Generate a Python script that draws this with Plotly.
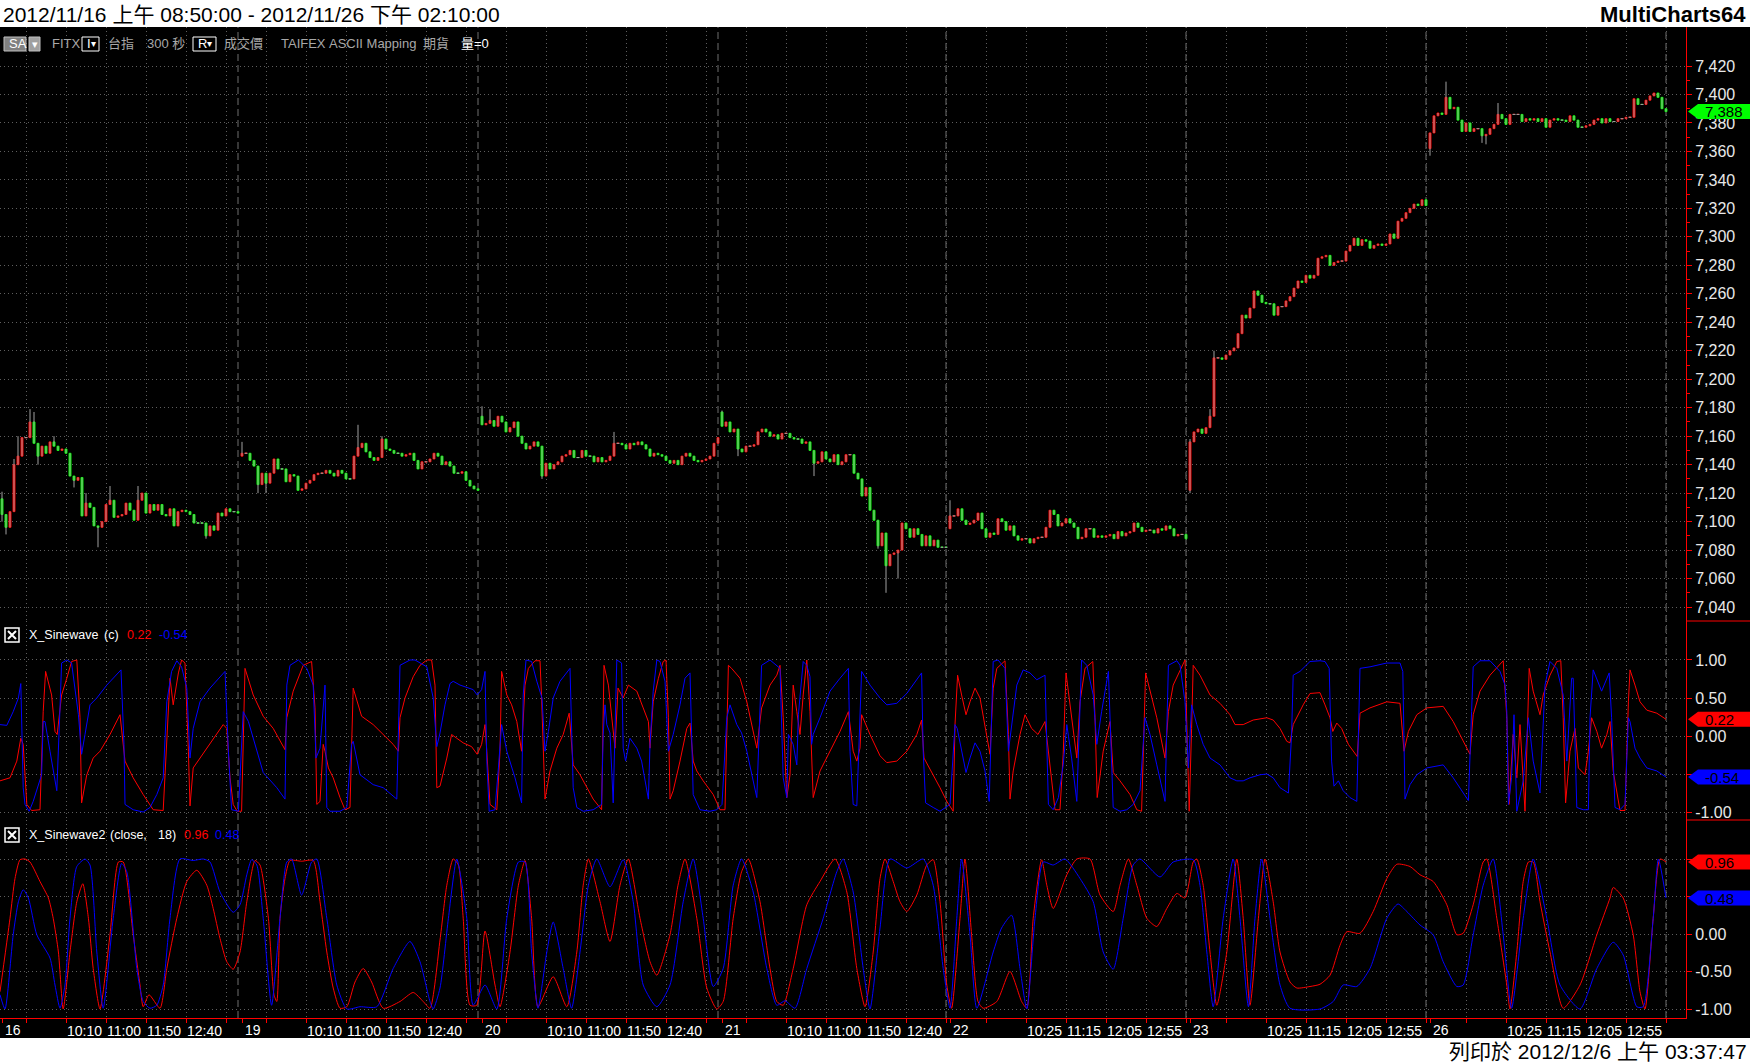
import plotly.graph_objects as go

# ---------------- texts ----------------
header_left = "2012/11/16 上午 08:50:00 - 2012/11/26 下午 02:10:00"
header_right = "MultiCharts64"
footer_text = "列印於 2012/12/6 上午 03:37:47"
symbol_bar = [(50, "FITX", "#a8a8a8"), (106, "台指", "#a8a8a8"), (145, "300 秒", "#a8a8a8"),
              (222, "成交價", "#a8a8a8"), (279, "TAIFEX", "#a8a8a8"), (327, "ASCII Mapping", "#a8a8a8"),
              (421, "期貨", "#a8a8a8"), (459, "量=0", "#ffffff")]
legend1 = [(27, "X_Sinewave", "#ffffff"), (102, "(c)", "#ffffff")]
legend2 = [(27, "X_Sinewave2", "#ffffff"), (108, "(close,", "#ffffff"), (156, "18)", "#ffffff")]

# ---------------- price data (5-minute bars) ----------------
day_labels = ["16", "19", "20", "21", "22", "23", "26"]
day_first_open = [7116, 7146, 7174, 7177, 7095, 7122, 7362]

close_d16 = [7105, 7096, 7107, 7140, 7146, 7159, 7159, 7170, 7155, 7146, 7153, 7148, 7156, 7153, 7150,
             7151, 7148, 7132, 7129, 7131, 7104, 7113, 7110, 7097, 7096, 7100, 7112, 7115, 7103, 7104,
             7105, 7113, 7108, 7101, 7115, 7120, 7106, 7112, 7108, 7112, 7105, 7104, 7109, 7097, 7107,
             7108, 7107, 7105, 7099, 7099, 7099, 7090, 7097, 7094, 7106, 7104, 7109, 7107, 7107, 7106]
close_d19 = [7148, 7148, 7143, 7139, 7126, 7134, 7127, 7134, 7144, 7137, 7137, 7128, 7133, 7132, 7122,
             7123, 7127, 7129, 7133, 7134, 7134, 7136, 7134, 7132, 7136, 7134, 7130, 7130, 7146, 7152,
             7155, 7149, 7145, 7143, 7145, 7158, 7151, 7150, 7148, 7148, 7146, 7147, 7148, 7143, 7137,
             7142, 7142, 7144, 7148, 7146, 7140, 7142, 7139, 7134, 7134, 7135, 7129, 7125, 7123, 7122]
close_d20 = [7168, 7169, 7171, 7167, 7174, 7170, 7163, 7166, 7170, 7160, 7155, 7151, 7153, 7156, 7153,
             7132, 7141, 7137, 7140, 7142, 7146, 7147, 7150, 7145, 7145, 7150, 7146, 7146, 7142, 7145,
             7142, 7143, 7146, 7155, 7155, 7154, 7151, 7155, 7154, 7156, 7154, 7151, 7146, 7148, 7147,
             7146, 7143, 7141, 7143, 7140, 7146, 7148, 7146, 7143, 7142, 7143, 7144, 7146, 7155, 7159]
close_d21 = [7167, 7170, 7163, 7165, 7151, 7149, 7153, 7153, 7154, 7163, 7165, 7163, 7160, 7161, 7158,
             7162, 7162, 7159, 7158, 7158, 7155, 7156, 7150, 7141, 7142, 7149, 7144, 7142, 7147, 7140,
             7142, 7147, 7147, 7134, 7130, 7118, 7124, 7108, 7101, 7083, 7092, 7069, 7077, 7078, 7080,
             7099, 7095, 7089, 7095, 7091, 7083, 7090, 7083, 7087, 7082, 7082, 7082]
close_d22 = [7104, 7104, 7109, 7101, 7098, 7099, 7101, 7106, 7095, 7089, 7092, 7091, 7102, 7100, 7094,
             7097, 7090, 7087, 7088, 7088, 7085, 7088, 7089, 7089, 7096, 7108, 7105, 7097, 7099, 7102,
             7099, 7096, 7088, 7089, 7095, 7095, 7089, 7090, 7089, 7090, 7091, 7088, 7093, 7090, 7092,
             7093, 7099, 7096, 7093, 7094, 7094, 7092, 7095, 7094, 7097, 7095, 7090, 7091, 7091, 7088]
close_d23 = [7156, 7163, 7165, 7162, 7166, 7174, 7215, 7215, 7214, 7217, 7220, 7222, 7232, 7245, 7243,
             7250, 7262, 7259, 7254, 7253, 7253, 7245, 7251, 7251, 7255, 7258, 7264, 7269, 7268, 7273,
             7271, 7273, 7285, 7286, 7287, 7280, 7282, 7283, 7283, 7290, 7294, 7299, 7294, 7298, 7297,
             7292, 7294, 7295, 7294, 7295, 7302, 7299, 7311, 7313, 7317, 7320, 7323, 7322, 7326, 7322]
close_d26 = [7373, 7385, 7387, 7386, 7398, 7390, 7391, 7382, 7374, 7380, 7374, 7376, 7376, 7371, 7372,
             7376, 7379, 7386, 7383, 7379, 7386, 7386, 7386, 7381, 7383, 7382, 7383, 7381, 7383, 7377,
             7382, 7383, 7382, 7382, 7381, 7385, 7382, 7377, 7377, 7378, 7379, 7382, 7383, 7380, 7383,
             7381, 7381, 7383, 7383, 7384, 7384, 7397, 7393, 7393, 7396, 7399, 7401, 7398, 7390, 7388]
daily_closes = [close_d16, close_d19, close_d20, close_d21, close_d22, close_d23, close_d26]

# visible long wicks (bar number -> price)
wick_high = {0: 7121, 3: 7144, 4: 7160, 7: 7179, 8: 7177, 13: 7160, 21: 7120, 27: 7125, 34: 7125,
             60: 7156, 89: 7168, 95: 7160, 120: 7181, 122: 7179, 153: 7163, 180: 7178, 237: 7115,
             297: 7158, 302: 7179, 303: 7220, 361: 7409, 374: 7394}
wick_low = {0: 7100, 1: 7091, 9: 7140, 18: 7124, 24: 7082, 51: 7088, 64: 7120, 66: 7120, 135: 7130,
            184: 7146, 203: 7132, 219: 7081, 221: 7050, 224: 7060, 297: 7120, 357: 7357, 370: 7366,
            371: 7365}

# time axis
session_first_bar = "08:50"
bar_minutes = 5
tick_times_early = ["09:20", "10:10", "11:00", "11:50", "12:40", "13:30"]
tick_times_late = ["09:35", "10:25", "11:15", "12:05", "12:55", "13:45"]
tick_times_by_day = [tick_times_early] * 4 + [tick_times_late] * 3
hidden_tick_times = {"09:20", "13:30", "09:35", "13:45"}

price_ticks = list(range(7040, 7421, 20))
osc_ticks = [-1.0, -0.5, 0.0, 0.5, 1.0]
osc_tick_text = ["-1.00", "-0.50", "0.00", "0.50", "1.00"]

# ---------------- indicator data (bar, value) ----------------
sine1_red = [(-0.5,-0.59),(2,-0.55),(3.7,-0.33),(4.7,-0.03),(5.3,-0.11),(6.2,-0.9),(7.4,-0.98),(9.5,-0.97),(10.3,0.32),(10.9,0.85),(12.4,0.54),(13.25,0.06),(13.8,0.02),(14.9,0.54),(16.2,0.76),(17.4,0.98),(18.7,1.0),(19.5,0.24),(19.9,-0.88),(21.2,-0.51),(22.8,-0.29),(24.5,-0.2),(27,0.02),(29.5,0.28),(30.75,-0.33),(32.8,-0.55),(35.3,-0.77),(37.8,-0.97),(40.3,-0.98),(41.2,-0.07),(42,0.76),(42.8,0.41),(44.1,0.83),(44.9,1.0),(45.75,0.96),(46.6,-0.2),(47,-0.92),(47.8,-0.42),(49.5,-0.29),(52,-0.09),(55.3,0.15),(56.2,0.1),(57,-0.55),(57.8,-0.9),(58.8,-0.99),(59.9,-0.99),(60.75,0.89),(62.8,0.54),(65.3,0.26),(67.8,0.1),(70.75,-0.18),(71.2,0.24),(72.8,0.59),(75.3,0.93),(77.4,0.98),(78.25,0.37),(78.7,-0.9),(79.5,-0.86),(80.3,-0.11),(80.75,-0.2),(81.6,-0.42),(82.8,-0.55),(84.5,-0.81),(85.75,-0.97),(87,-0.94),(87.8,0.63),(89.9,0.26),(92.8,0.15),(95.3,0.02),(97.8,-0.11),(99.1,-0.2),(99.5,0.24),(100.75,0.5),(102.8,0.78),(104.5,0.93),(106.2,1.0),(107.4,1.0),(108.25,0.67),(108.7,-0.68),(109.5,-0.66),
    (111.2,-0.29),(112.4,0.02),(113.7,-0.03),(115.3,-0.09),(117.4,-0.14),(118.8,-0.24),(119.9,-0.11),(120.75,0.15),(121.2,-0.2),(122,-0.9),(123.7,-0.97),(124.5,-0.2),(124.9,0.85),(126.2,0.54),(127.4,0.41),(128.7,0.19),(129.9,-0.2),(130.75,0.67),(131.6,0.89),(133.25,0.99),(134.5,0.99),(134.9,0.5),(135.75,-0.83),(137,-0.46),(138.7,-0.16),(140.3,0.02),(141.8,0.3),(142.8,-0.38),(144.5,-0.51),(146.2,-0.68),(147.8,-0.83),(149.9,-0.97),(150.5,0.93),(151.6,0.67),(152.4,0.24),(153.25,-0.16),(154,0.63),(155.3,0.5),(156.6,0.67),(158.7,0.59),(160.3,0.37),(161.6,0.19),(162,-0.16),(162.8,0.45),(164.1,0.76),(165.3,0.98),(166,1.0),(166.6,0.24),(167,-0.83),(167.8,-0.72),(169.5,-0.33),(171.2,0.1),(172,0.17),(172.8,-0.33),(173.7,-0.46),(175.3,-0.59),(177.8,-0.77),(179.5,-0.97),(180.75,-0.97),(181.6,0.93),(182.4,0.89),(184.5,0.76),(186.2,0.45),(188.7,-0.16),(189.9,0.37),(192,0.67),(193.7,0.8),(194.5,0.93),(195.3,0.24),(196.2,-0.81),(197,-0.51),(197.8,0.67),(198.7,0.32),(199.5,0.02),(200.3,0.54),(201.2,1.0),(202,0.32),(202.4,-0.16),(202.8,-0.81),(204.5,-0.46),(207,-0.2),(209.5,0.06),(211.6,0.32),(212.8,-0.2),(213.7,-0.33),(214.5,-0.16),(214.9,0.28),(217,0.02),(219.5,-0.26),
    (221.2,-0.35),(223.7,-0.33),(226.2,-0.2),(228.7,0.02),(229.9,0.21),(230.5,-0.29),(232.8,-0.51),(234.5,-0.68),(236.2,-0.86),(237.8,-0.99),(238.25,0.15),(238.9,0.8),(239.9,0.54),(241,0.28),(242,0.45),(243.25,0.63),(244.5,0.5),(246.2,0.02),(247,-0.24),(247.8,0.63),(248.7,0.89),(250.75,0.99),(251.6,0.02),(252,-0.83),(252.8,-0.46),(254.5,0.02),(255.75,0.28),(257.4,0.1),(259,0.02),(260.75,0.19),(261.6,-0.2),(263.25,-0.97),(264.5,-0.97),(265.3,-0.24),(266,0.83),(267.4,0.24),(268.7,-0.29),(269.5,0.45),(270.75,0.89),(272.7,0.98),(273.25,0.24),(273.8,-0.81),(275.3,-0.2),(277,0.19),(277.8,-0.48),(279.5,-0.59),(282,-0.77),(283.7,-0.97),(284.9,-0.99),(285.9,0.83),(287,0.59),(288.7,0.24),(290.75,-0.29),(291.6,0.32),(292.8,0.67),(294.5,0.85),(295.75,1.0),(296.2,0.15),(296.8,-0.99),(297.4,0.1),(297.8,0.93),(299.5,0.8),(302,0.54),(304.5,0.43),(307,0.28),(308.25,0.15),(310.3,0.15),(312.8,0.21),(316.2,0.24),(317.8,0.21),(319.5,0.1),(321.2,-0.07),(322,-0.09),(322.8,0.15),(325.3,0.41),(327,0.56),(329.5,0.57),
    (330.75,0.41),(332,0.24),(332.7,0.06),(333.7,0.17),(334.9,0.1),(336.6,-0.11),(338.8,-0.27),(339.5,0.3),(342,0.37),(346.2,0.45),(349.5,0.43),(350.5,-0.2),(351.6,0.06),(353.7,0.28),(356.2,0.37),(360.3,0.39),(362.8,0.19),(365.3,-0.07),(367,-0.24),(367.8,0.28),(369.5,0.59),(372,0.8),(375.3,0.99),(376.2,0.24),(376.75,-0.9),(377.8,0.02),(378.7,-0.55),(379.5,0.15),(380.75,-0.99),(381.8,0.89),(382.8,0.59),(384.5,0.28),(385.3,0.54),(387,0.8),(388.7,0.98),(389.7,0.99),(390.3,0.24),(390.9,-0.88),(392,-0.2),(393.25,0.1),(394.1,-0.42),(395.75,-0.51),(396.6,-0.2),(397.4,0.24),(398.7,0.06),(399.9,-0.16),(401.2,0.02),(402,0.19),(402.8,-0.46),(404.5,-0.98),(405.75,-0.98),(406.6,0.45),(407,0.87),(408.25,0.67),(409.5,0.45),(411.2,0.34),(413.7,0.3),(416,0.22)]

sine1_blue = [(-0.5,0.15),(1.2,0.14),(2.8,0.32),(4.1,0.5),(4.7,0.69),(5.3,-0.68),(5.75,-0.9),(6.8,-0.99),(7.8,-0.86),(9.9,-0.51),(10.3,0.19),(10.75,0.19),(12,-0.2),(13.7,-0.72),(14.5,0.37),(14.9,0.96),(16.2,1.0),(17.4,0.96),(19.1,0.28),(19.9,-0.24),(20.75,0.02),(22,0.41),(23.7,0.5),(26.2,0.67),(29.75,0.87),(30.5,-0.11),(30.75,-0.9),(32.8,-0.97),(35.3,-1.0),(37,-0.94),(38.7,-0.77),(40.3,-0.55),(41.2,0.45),(42.4,0.85),(43.7,0.99),(44.9,0.91),(46.2,0.63),(47,-0.29),(47.8,0.1),(49.5,0.45),(52,0.63),(55.75,0.85),(56.6,-0.2),(57.4,-0.97),(59.1,-0.99),(60.3,0.32),(61.6,0.19),(65.3,-0.48),(68.7,-0.68),(70.75,-0.83),(71.2,0.67),(72,0.93),(74.1,1.0),(76.2,0.89),(77.8,0.67),(78.5,-0.29),(79.5,-0.16),(80.75,0.67),(81.2,-0.94),(82,-0.99),(84.5,-0.99),(86.2,-0.94),(87.4,-0.11),(87.8,-0.07),(89.5,-0.51),(92.8,-0.64),(95.3,-0.68),(97,-0.75),(98.7,-0.83),(99.5,0.93),(102,1.0),(103.25,1.0),(106.2,0.91),(107.8,0.5),(108.7,-0.14),(109.5,0.04),
    (110.75,0.41),(112,0.69),(112.8,0.72),(114.5,0.67),(116.2,0.64),(117.8,0.61),(118.8,0.54),(119.9,0.61),(120.75,0.85),(121.2,-0.33),(121.8,-0.99),(123.25,-0.97),(124.1,-0.42),(124.9,0.15),(126.2,-0.2),(128.25,-0.55),(129.9,-0.88),(130.3,0.54),(131,1.0),(132.4,0.98),(133.7,0.72),(135,0.5),(135.75,-0.2),(136.6,0.06),(137.8,0.5),(139.5,0.72),(142,0.89),(142.8,-0.68),(143.7,-0.94),(145.3,-0.99),(147.8,-0.97),(149.9,-0.9),(150.3,0.02),(150.75,0.41),(151.2,0.15),(152,0.04),(152.8,-0.88),(153.25,0.28),(153.7,1.0),(154.9,0.96),(155.3,-0.16),(155.9,-0.33),(157,-0.03),(158.7,-0.16),(159.9,-0.33),(161.6,-0.83),(162,-0.11),(162.8,0.59),(163.7,1.0),(164.5,0.98),(165.75,0.72),(166.6,-0.2),(167.8,0.02),(169.5,0.41),(170.75,0.76),(172,0.83),(172.8,-0.77),(174.5,-0.97),(177,-0.99),(178.7,-0.97),(180,-0.9),(181.2,0.24),(182,0.41),(183.7,0.15),(184.9,0.04),(186.2,-0.2),(188.7,-0.81),(189.9,0.93),(192,1.0),(194.5,0.89),(195.3,-0.55),(196.2,-0.81),(196.6,0.02),(197.8,-0.11),(198.7,-0.38),(199.1,0.28),(200.3,0.98),(201.2,0.93),(202,0.78),(202.4,-0.11),(202.8,0.02),(204.5,0.24),(207,0.59),(209.5,0.76),(211.6,0.89),(212,-0.2),(212.8,-0.9),(213.7,-0.92),(214.9,0.85),(217,0.67),(219.5,0.5),
    (221.2,0.41),(223.7,0.43),(226.2,0.56),(229.9,0.83),(230.3,-0.2),(230.9,-0.88),(232.8,-0.94),(234.5,-0.99),(237,-0.9),(238.25,0.15),(238.8,0.1),(239.9,-0.2),(241,-0.48),(242,-0.29),(243.25,-0.09),(244.5,-0.2),(245.75,-0.46),(246.8,-0.86),(247.8,0.98),(249,1.0),(250.75,0.89),(251.6,-0.2),(252.4,0.15),(253.7,0.67),(255.3,0.87),(257,0.83),(258.7,0.74),(260.75,0.8),(261.6,-0.9),(262.8,-0.97),(264.1,-0.81),(265.3,-0.38),(266.2,0.15),(267.4,-0.29),(268.7,-0.86),(269.9,1.0),(271.2,0.93),(272.8,0.54),(273.7,-0.11),(274.9,0.32),(276.6,0.85),(277.8,-0.94),(279.5,-0.99),(281.2,-0.97),(282.8,-0.9),(284.5,-0.72),(285.75,0.24),(287,0.02),(288.7,-0.38),(290.75,-0.86),(291.6,0.93),(293.7,0.99),(294.5,0.93),(295.75,0.45),(296.6,-0.42),(297.4,0.41),(298.7,0.15),(300.3,-0.11),(302,-0.29),(304.5,-0.38),(307,-0.55),(308.7,-0.59),(310.3,-0.59),(312,-0.55),(314.5,-0.51),(316.2,-0.5),(317.8,-0.55),(319.5,-0.68),(321.6,-0.75),(322.4,0.02),(322.8,0.8),(324.5,0.85),(327,0.98),(329.5,0.99),
    (330.75,0.98),(331.8,0.89),(332.4,-0.33),(333,-0.66),(334.1,-0.59),(335.3,-0.72),(337,-0.81),(338.7,-0.86),(339.5,0.89),(342,0.91),(346.2,0.96),(349.5,0.96),(350.2,0.85),(350.75,-0.83),(352,-0.64),(353.7,-0.51),(356.2,-0.42),(358.25,-0.4),(360.3,-0.38),(362.8,-0.55),(364.9,-0.72),(366.6,-0.85),(367.4,0.32),(367.8,0.91),(369.5,0.99),(372,0.99),(374.5,0.85),(375.75,0.67),(376.2,0.32),(376.6,-0.9),(377.4,-0.55),(378,0.28),(378.7,-0.99),(380.3,-0.59),(381.6,0.24),(382.8,-0.33),(384.5,-0.75),(385.75,0.67),(387,0.98),(388.7,0.89),(390.3,0.54),(391.2,-0.33),(392.4,0.76),(392.8,0.76),(393.7,-0.94),(395.3,-0.97),(396.6,-0.97),(397,0.24),(397.8,0.87),(399.9,0.59),(401.8,0.83),(402.4,0.24),(403.25,-0.94),(404.5,-0.97),(405.75,-0.9),(406.6,0.24),(407,0.19),(408.25,-0.16),(409.5,-0.29),(411.2,-0.42),(413.7,-0.46),(416,-0.54)]

sine2_red = [(-0.5,-0.77),(2,0.21),(3.25,0.74),(4.5,0.99),(5.75,1.0),(7,0.96),(9.5,0.7),(11.6,0.48),(12.8,0.21),(14.1,-0.24),(15.3,-1.0),(17,-0.24),(18.7,0.43),(20.2,0.67),(21.6,0.21),(22.8,-0.46),(24.5,-1.0),(27,-0.01),(29.1,0.96),(30.3,0.96),(32.8,-0.01),(34.5,-0.68),(35.3,-0.97),(36.75,-0.81),(39.5,-0.99),(41.2,-0.46),(43.7,0.21),(46.2,0.7),(48.7,0.85),(51.2,0.65),(52.8,0.34),(54.5,-0.06),(56.2,-0.37),(57.8,-0.47),(59.5,-0.24),(61.2,0.43),(63.25,0.98),(64.5,0.92),(66.6,0.21),(68,-0.81),(68.7,-0.9),(69.5,0.21),(70.75,0.74),(72,0.98),(74.9,0.97),(77.8,0.98),(79.5,0.43),(81.2,-0.24),(82.8,-0.72),(84.5,-0.99),(86.2,-0.97),(88.25,-0.64),(90.3,-0.46),(92.4,-0.64),(95.3,-0.99),(99.5,-0.9),(102.8,-0.78),(105.3,-0.9),(107,-0.99),(109.5,-0.08),
    (111.2,0.65),(112.8,1.0),(114.1,0.92),(115.3,0.21),(117,-0.95),(118.7,-0.95),(120.75,0.04),(123.25,-0.68),(124.5,-0.97),(127,-0.24),(129.1,0.65),(130.75,0.98),(132.4,0.21),(134,-0.97),(137.8,-0.57),(141.2,-0.97),(143.7,-0.24),(145.3,0.65),(146.6,1.0),(149.5,0.43),(152,-0.1),(154.5,0.65),(156.6,1.0),(159.5,0.21),(162,-0.37),(163.7,-0.55),(167,-0.01),(169,0.65),(170.75,1.0),(173.7,0.21),(176.2,-0.72),(178.7,-1.0),(180.3,-0.9),(182.8,0.21),(184.9,0.83),(186.6,1.0),(189.5,0.43),(192,-0.46),(193.7,-0.9),(195.3,-0.95),(197.8,-0.46),(201.2,0.39),(204.5,0.7),(208.25,1.0),(211.2,0.56),(213.7,-0.46),(215.75,-0.97),(217.8,-0.24),(219.5,0.74),
    (220.75,1.0),(222.8,0.7),(224.5,0.43),(226.2,0.3),(228.7,0.52),(231.2,0.92),(232.8,0.99),(234.5,0.43),(236.2,-0.68),(237.4,-0.99),(239.5,0.21),(240.75,1.0),(242.4,-0.01),(244,-0.9),(245.3,-0.99),(248.7,-0.9),(252,-0.5),(254.9,-0.9),(256.2,-0.99),(257.8,0.21),(259.9,0.99),(261.2,0.65),(262.8,0.34),(266.2,0.79),(268.7,1.0),(272,1.0),(274.5,0.52),(277.8,0.3),(279.5,0.65),(281.6,1.0),(283.7,0.65),(286.2,0.21),(288.7,0.1),(291.2,0.34),(293.7,0.54),(295.75,0.48),(297.8,0.96),(298.7,1.0),(300.3,0.65),(302,-0.24),(303.7,-0.95),(306.2,-0.24),(308.7,1.0),(310.3,0.21),(312,-0.95),(314.1,0.21),(315.75,1.0),(317.8,0.43),(319.5,-0.24),(322,-0.64),(323.7,-0.72),(327,-0.7),(329.5,-0.67),
    (332,-0.55),(334.5,-0.15),(336.2,0.03),(339.5,0.01),(342.8,0.3),(346.2,0.74),(348.7,0.93),(352,0.9),(354.5,0.79),(357.8,0.7),(361.2,0.39),(363.7,-0.01),(365.3,0.01),(367.8,0.39),(370.3,0.96),(371.2,1.0),(373.7,0.21),(376.2,-0.68),(377,-1.0),(378.7,-0.24),(380.3,0.7),(381.6,0.96),(382.8,0.96),(384.5,0.43),(387,-0.24),(390.3,-0.99),(394.5,-0.68),(398.7,-0.01),(402,0.48),(402.8,0.62),(405.3,0.48),(407.8,-0.01),(409.5,-0.77),(410.75,-1.0),(412.8,0.21),(414.5,1.0),(416,0.96)]

sine2_blue = [(-0.5,-0.81),(0.75,-1.0),(2.8,-0.01),(4.1,0.43),(5.3,0.59),(6.6,0.48),(8.7,-0.01),(12,-0.32),(13.25,-0.68),(14.5,-0.99),(15.75,-0.68),(17,0.21),(18.7,0.9),(20.75,1.0),(22,0.92),(23.7,-0.24),(25.3,-0.99),(27.8,0.21),(29.9,0.94),(31.2,0.83),(33.7,-0.46),(35.3,-0.9),(37,-0.99),(38.7,-0.95),(40.3,-0.68),(42,0.21),(44.5,1.0),(47.8,0.98),(50.3,1.0),(52,0.96),(54.5,0.56),(57.8,0.29),(59.5,0.39),(61.2,0.79),(62.4,0.99),(63.7,0.92),(65.3,0.21),(67.4,-0.95),(69.5,0.21),(71.2,0.96),(72.4,1.0),(74.9,0.52),(77.4,0.96),(78.7,1.0),(81.2,0.21),(83.7,-0.68),(86.2,-1.0),(89.5,-0.97),(93.7,-0.97),(97.8,-0.46),(102,-0.1),(104.5,-0.37),(107,-0.9),(107.8,-1.0),(109.5,-0.72),
    (111.6,0.21),(113.7,1.0),(116.2,0.21),(117.8,-0.95),(120.75,-0.68),(123.7,-1.0),(126.2,0.21),(129.1,0.96),(130.75,0.96),(132.4,-0.24),(134,-0.99),(136.2,-0.24),(137.8,0.16),(140.3,-0.46),(142.4,-0.99),(144.5,-0.24),(146.6,0.65),(148.7,1.0),(152,0.63),(155.3,0.99),(157.8,0.43),(160.3,-0.68),(163.7,-0.97),(167,-0.68),(170.3,0.43),(172.8,1.0),(175.3,0.21),(177.8,-0.7),(180.3,-0.46),(182.8,0.65),(184.9,1.0),(187.8,0.56),(191.2,-0.46),(193.7,-0.95),(195.75,-0.89),(198.25,-0.99),(201.2,-0.46),(205.3,0.21),(208.7,0.83),(210.3,1.0),(212.8,0.56),(215.3,-0.46),(217,-1.0),(219.5,0.08),
    (222,1.0),(226.2,0.88),(230.3,1.0),(232.8,0.65),(235.3,-0.46),(237,-0.99),(238.7,0.21),(239.9,1.0),(242,-0.01),(243.7,-0.99),(247.8,-0.24),(249.9,0.08),(252.4,0.25),(254.5,-0.46),(256.2,-1.0),(258.25,0.21),(260.3,0.96),(262.8,0.92),(265.75,1.0),(269.5,0.74),(272.8,0.43),(275.3,-0.24),(277.8,-0.47),(280.3,0.21),(282.8,0.92),(284.5,1.0),(289.5,0.76),(292.8,0.96),(297.8,0.99),(299.5,0.65),(301.2,-0.24),(302.8,-0.97),(305.3,0.21),(307.8,1.0),(309.5,0.21),(311.6,-0.97),(313.25,0.21),(314.9,1.0),(317,0.21),(319.5,-0.68),(322,-0.99),(329.5,-1.0),
    (332.8,-0.9),(335.3,-0.68),(338.7,-0.7),(342,-0.46),(346.2,0.21),(349,0.4),(351.2,0.3),(354.5,0.12),(357.8,-0.01),(360.3,-0.37),(363.7,-0.7),(365.3,-0.68),(367.8,-0.01),(370.3,0.65),(372.8,1.0),(375.3,-0.01),(377.4,-0.99),(380.3,0.21),(382.8,1.0),(386.2,0.21),(389.5,-0.68),(394.5,-1.0),(398.7,-0.46),(402.8,-0.11),(405.3,-0.28),(408.7,-0.97),(410.3,-0.97),(412.8,0.21),(414.1,1.0),(416,0.48)]

# ---------------- styles ----------------
RED, BLUE, LIME = "#ff0000", "#0000ff", "#00ff00"
WICK = "#a0a0a0"
GRID = "#5e5e5e"
SEP = "#6e6e6e"
ARIAL = "Liberation Sans, Arial, Noto Sans CJK TC, sans-serif"
W, H = 1750, 1062
ML, MR, MT, MB = 0, 64, 27, 44
PW, PH = W - ML - MR, H - MT - MB


def fx(px):
    return (px - ML) / PW


def fy(py):
    return (H - MB - py) / PH


# ---------------- build bars ----------------
bar_x, opens, highs, lows, closes = [], [], [], [], []
day_start, day_end = [], []
n = 0
for d, day_closes in enumerate(daily_closes):
    day_start.append(n)
    prev = day_first_open[d]
    for c in day_closes:
        o = prev
        h = max(o, c, wick_high.get(n, c))
        l = min(o, c, wick_low.get(n, c))
        bar_x.append(n)
        opens.append(o)
        highs.append(h)
        lows.append(l)
        closes.append(c)
        prev = c
        n += 1
    day_end.append(n - 1)

body_top = [max(o, c) for o, c in zip(opens, closes)]
body_bot = [min(o, c) for o, c in zip(opens, closes)]

# grey wicks (high-low) drawn under the coloured bodies
wick_x, wick_y = [], []
for i, h, l in zip(bar_x, highs, lows):
    wick_x += [i, i, None]
    wick_y += [l, h, None]
# grey crosses for unchanged bars
doji_x, doji_y = [], []
for i, o, c in zip(bar_x, opens, closes):
    if o == c:
        doji_x += [i - 0.4, i + 0.4, None]
        doji_y += [c, c, None]


def minutes(t):
    hh, mm = t.split(":")
    return int(hh) * 60 + int(mm)


grid_vals, grid_text = [], []
for d in range(len(day_labels)):
    for t in tick_times_by_day[d]:
        grid_vals.append(day_start[d] + (minutes(t) - minutes(session_first_bar)) // bar_minutes)
        grid_text.append("" if t in hidden_tick_times else t)

# last values (shown in legends and axis markers)
s1_last = (sine1_red[-1][1], sine1_blue[-1][1])
s2_last = (sine2_red[-1][1], sine2_blue[-1][1])


def visible_osc_text(last_vals):
    # axis labels hidden behind a value marker are not drawn, as in the original
    return [t if all(abs(v - lv) > 0.12 for lv in last_vals) else ""
            for v, t in zip(osc_ticks, osc_tick_text)]


fig = go.Figure()
fig.add_trace(go.Scatter(x=wick_x, y=wick_y, mode="lines", xaxis="x", yaxis="y",
                         line=dict(color=WICK, width=1), hoverinfo="skip", showlegend=False))
fig.add_trace(go.Candlestick(
    x=bar_x, open=opens, high=body_top, low=body_bot, close=closes, xaxis="x", yaxis="y",
    increasing=dict(line=dict(color=RED, width=1), fillcolor=RED),
    decreasing=dict(line=dict(color=LIME, width=1), fillcolor=LIME),
    whiskerwidth=0, hoverinfo="skip", showlegend=False))
fig.add_trace(go.Scatter(x=doji_x, y=doji_y, mode="lines", xaxis="x", yaxis="y",
                         line=dict(color=WICK, width=1), hoverinfo="skip", showlegend=False))

for series, color, xa, ya, shape in [
        (sine1_red, RED, "x2", "y2", "linear"), (sine1_blue, BLUE, "x2", "y2", "linear"),
        (sine2_red, RED, "x3", "y3", "spline"), (sine2_blue, BLUE, "x3", "y3", "spline")]:
    fig.add_trace(go.Scatter(
        x=[p[0] for p in series], y=[p[1] for p in series], mode="lines", xaxis=xa, yaxis=ya,
        line=dict(color=color, width=1, shape=shape, smoothing=0.6), hoverinfo="skip", showlegend=False))

dom_top = [fy(621), 1.0]
dom_mid = [fy(820), fy(621)]
dom_bot = [0.0, fy(820)]
x_range = [-0.5, 421]

xcommon = dict(range=x_range, showgrid=True, gridcolor=GRID, gridwidth=1, griddash="1px,3px",
               zeroline=False, tickvals=grid_vals)
ycommon = dict(side="right", showline=True, linecolor=RED, linewidth=1, ticks="outside", ticklen=5,
               tickcolor=RED, showgrid=True, gridcolor=GRID, gridwidth=1, griddash="1px,3px",
               zeroline=False, tickfont=dict(family=ARIAL, size=16, color="#e8e8e8"))

fig.update_layout(
    width=W, height=H, autosize=False,
    margin=dict(l=ML, r=MR, t=MT, b=MB, pad=0),
    paper_bgcolor="#000000", plot_bgcolor="rgba(0,0,0,0)",
    showlegend=False,
    xaxis=dict(domain=[0, 1], anchor="y", showticklabels=False, ticks="",
               rangeslider=dict(visible=False), **xcommon),
    xaxis2=dict(domain=[0, 1], anchor="y2", matches="x", showticklabels=False, ticks="", **xcommon),
    xaxis3=dict(domain=[0, 1], anchor="y3", matches="x", ticktext=grid_text, ticks="outside", ticklen=4,
                tickcolor=RED, showline=True, linecolor=RED, linewidth=1, tickangle=0,
                ticklabelposition="outside right",
                tickfont=dict(family=ARIAL, size=14, color="#ffffff"),
                minor=dict(tickvals=day_start, ticks="outside", ticklen=4, tickcolor=RED, showgrid=False),
                **xcommon),
    yaxis=dict(domain=dom_top, anchor="x", range=[7030.2, 7447.4], tickvals=price_ticks, tickformat=",d",
               minor=dict(tickvals=[v + 10 for v in price_ticks[:-1]], ticks="outside", ticklen=3,
                          tickcolor=RED, showgrid=False),
               **ycommon),
    yaxis2=dict(domain=dom_mid, anchor="x2", range=[-1.105, 1.513], tickvals=osc_ticks,
                ticktext=visible_osc_text(s1_last), **ycommon),
    yaxis3=dict(domain=dom_bot, anchor="x3", range=[-1.12, 1.52], tickvals=osc_ticks,
                ticktext=visible_osc_text(s2_last), **ycommon),
)

shapes = []
ann = []
# header / footer bands
shapes.append(dict(type="rect", xref="paper", yref="paper", x0=fx(0), x1=fx(W), y0=fy(MT), y1=fy(0),
                   fillcolor="#ffffff", line=dict(width=0), layer="below"))
shapes.append(dict(type="rect", xref="paper", yref="paper", x0=fx(0), x1=fx(W), y0=fy(H), y1=fy(1038),
                   fillcolor="#ffffff", line=dict(width=0), layer="below"))
ann.append(dict(xref="paper", yref="paper", x=fx(1), y=fy(14), xanchor="left", yanchor="middle",
                text=header_left, showarrow=False, font=dict(family=ARIAL, size=21, color="#000000")))
ann.append(dict(xref="paper", yref="paper", x=fx(1748), y=fy(14), xanchor="right", yanchor="middle",
                text="<b>" + header_right + "</b>", showarrow=False,
                font=dict(family=ARIAL, size=22, color="#000000")))
ann.append(dict(xref="paper", yref="paper", x=fx(1749), y=fy(1051), xanchor="right", yanchor="middle",
                text=footer_text, showarrow=False, font=dict(family=ARIAL, size=21, color="#000000")))

# day separators (last bar of every session)
for e in day_end:
    shapes.append(dict(type="line", xref="x", yref="paper", x0=e, x1=e, y0=0, y1=1,
                       line=dict(color=SEP, width=1, dash="7px,4px"), layer="below"))

# pane separators in the axis area
for py in (621, 820):
    shapes.append(dict(type="line", xref="paper", yref="paper", x0=1, x1=fx(W), y0=fy(py), y1=fy(py),
                       line=dict(color=RED, width=1), layer="above"))

# day labels on the time axis
for d, lab in enumerate(day_labels):
    ann.append(dict(xref="x3", yref="paper", x=day_start[d], y=fy(1030), xanchor="left", yanchor="middle",
                    xshift=1, text=lab, showarrow=False, font=dict(family=ARIAL, size=14, color="#ffffff")))

# symbol bar
shapes.append(dict(type="rect", xref="paper", yref="paper", x0=fx(4), x1=fx(26), y0=fy(51), y1=fy(37),
                   fillcolor="#808080", line=dict(color="#c0c0c0", width=1), layer="above"))
shapes.append(dict(type="rect", xref="paper", yref="paper", x0=fx(29), x1=fx(40), y0=fy(51), y1=fy(37),
                   fillcolor="#a0a0a0", line=dict(color="#c0c0c0", width=1), layer="above"))
for x0, x1 in ((82, 99), (193, 216)):
    shapes.append(dict(type="rect", xref="paper", yref="paper", x0=fx(x0), x1=fx(x1), y0=fy(51), y1=fy(37),
                       line=dict(color="#ffffff", width=1), layer="above"))
for px, txt, sz in ((7, "SA", 13), (30, "▾", 11), (85, "I", 13), (89, "▾", 10), (196, "R", 13), (205, "▾", 10)):
    ann.append(dict(xref="paper", yref="paper", x=fx(px), y=fy(44), xanchor="left", yanchor="middle",
                    text=txt, showarrow=False, font=dict(family=ARIAL, size=sz, color="#ffffff")))
for px, txt, col in symbol_bar:
    ann.append(dict(xref="paper", yref="paper", x=fx(px), y=fy(44), xanchor="left", yanchor="middle",
                    text=txt, showarrow=False, font=dict(family=ARIAL, size=13, color=col)))

# indicator legends with check boxes
for py, items, val_x, vals in ((635, legend1, (125, 157), s1_last), (835, legend2, (182, 213), s2_last)):
    shapes.append(dict(type="rect", xref="paper", yref="paper", x0=fx(5), x1=fx(19), y0=fy(py + 7),
                       y1=fy(py - 7), line=dict(color="#ffffff", width=1.5), layer="above"))
    shapes.append(dict(type="path", xref="paper", yref="paper",
                       path=f"M {fx(8)},{fy(py - 4)} L {fx(16)},{fy(py + 4)} M {fx(16)},{fy(py - 4)} L {fx(8)},{fy(py + 4)}",
                       line=dict(color="#ffffff", width=2), layer="above"))
    for px, txt, col in items:
        ann.append(dict(xref="paper", yref="paper", x=fx(px), y=fy(py), xanchor="left", yanchor="middle",
                        text=txt, showarrow=False, font=dict(family=ARIAL, size=12.5, color=col)))
    for px, v, col in zip(val_x, vals, (RED, BLUE)):
        ann.append(dict(xref="paper", yref="paper", x=fx(px), y=fy(py), xanchor="left", yanchor="middle",
                        text=f"{v:.2f}", showarrow=False, font=dict(family=ARIAL, size=12.5, color=col)))

# last-value markers on the right axes
markers = [("y", closes[-1], LIME, f"{closes[-1]:,d}"),
           ("y2", s1_last[0], RED, f"{s1_last[0]:.2f}"),
           ("y2", s1_last[1], BLUE, f"{s1_last[1]:.2f}"),
           ("y3", s2_last[0], RED, f"{s2_last[0]:.2f}"),
           ("y3", s2_last[1], BLUE, f"{s2_last[1]:.2f}")]
for yref, val, col, txt in markers:
    shapes.append(dict(type="path", xref="paper", yref=yref, ysizemode="pixel", yanchor=val,
                       path=f"M {fx(1688)},0 L {fx(1698)},7.5 L {fx(W)},7.5 L {fx(W)},-7.5 L {fx(1698)},-7.5 Z",
                       fillcolor=col, line=dict(width=0), layer="above"))
    ann.append(dict(xref="paper", yref=yref, x=fx(1703), y=val, xanchor="left", yanchor="middle",
                    text=txt, showarrow=False, font=dict(family=ARIAL, size=15, color="#000000")))

fig.update_layout(shapes=shapes, annotations=ann)

fig.write_html("out.html", config={"displayModeBar": False},
               post_script="document.body.style.margin='0';document.body.style.overflow='hidden';")
